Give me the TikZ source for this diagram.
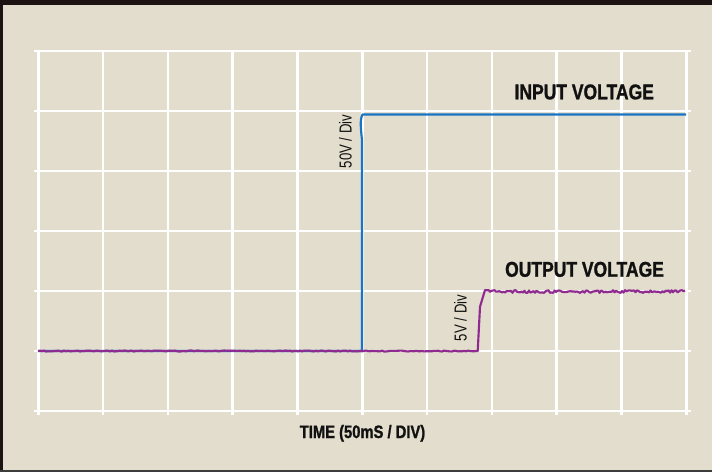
\documentclass[tikz,border=0pt]{standalone}
\usepackage{fontspec}
\newfontfamily\condbold[FakeStretch=0.82, FakeBold=1.2]{Liberation Sans}
\newfontfamily\condthin[FakeStretch=0.76]{Liberation Sans}
\definecolor{scopebg}{HTML}{E2DDCC}
\definecolor{framedark}{HTML}{1C1212}
\definecolor{framegray}{HTML}{3C3C3C}
\definecolor{inblue}{HTML}{1874C4}
\definecolor{outpurple}{HTML}{8E2A90}
\definecolor{labelink}{HTML}{111111}

\begin{document}
\begin{tikzpicture}[x=0.75pt, y=-0.75pt,
    gridline/.style={white, line width=2pt},
    trace/.style={line width=1.6pt, line join=round},
    biglabel/.style={font=\condbold\bfseries\fontsize{16}{18}\selectfont, text=labelink, inner sep=0pt, anchor=base},
    divlabel/.style={font=\condthin\fontsize{13}{15}\selectfont, text=labelink, inner sep=0pt, rotate=90, anchor=base}]
    \useasboundingbox (0,0) rectangle (712,472);
    % Frame and screen
    \fill[framedark] (0,0) rectangle (712,472);
    \fill[framegray] (0,470) rectangle (712,472);
    \fill[scopebg] (3,5) rectangle (712,470);

    % Grid
    \foreach \i in {0,...,10}
        \draw[gridline] ({38.3+64.8*\i},51) -- ({38.3+64.8*\i},415);
    \foreach \j in {0,...,6}
        \draw[gridline] (34,{51+60*\j}) -- (691,{51+60*\j});

    % Input trace
    \draw[trace, inblue] (38,351) -- (362,351) -- (362,140)
        .. controls (361,130) and (359.5,120) .. (362.5,114.5) -- (686,114.5);

    % Output trace
    \pgfmathsetseed{42}
    \draw[trace, outpurple] (38,351)
        \foreach \x in {40,42,...,476} { -- (\x,{351+0.5*rand}) }
        -- (477.7,351) -- (480,306.7) -- (485,290)
        \foreach \x in {487,488.5,...,686} { -- (\x,{291.5+1.4*rand}) };

    % Labels
    \node[biglabel] (lin) at (584.2,99.3) {INPUT VOLTAGE};
    \node[biglabel] (lout) at (584.5,276.7) {OUTPUT VOLTAGE};
    \node[divlabel] (ldivin) at (351.7,141.5) {50V / Div};
    \node[divlabel] (ldivout) at (466.7,318) {5V / Div};
    \node[biglabel, font=\condbold\bfseries\fontsize{13.5}{15}\selectfont] (ltime) at (362.5,438) {TIME (50mS / DIV)};
\end{tikzpicture}
\end{document}
